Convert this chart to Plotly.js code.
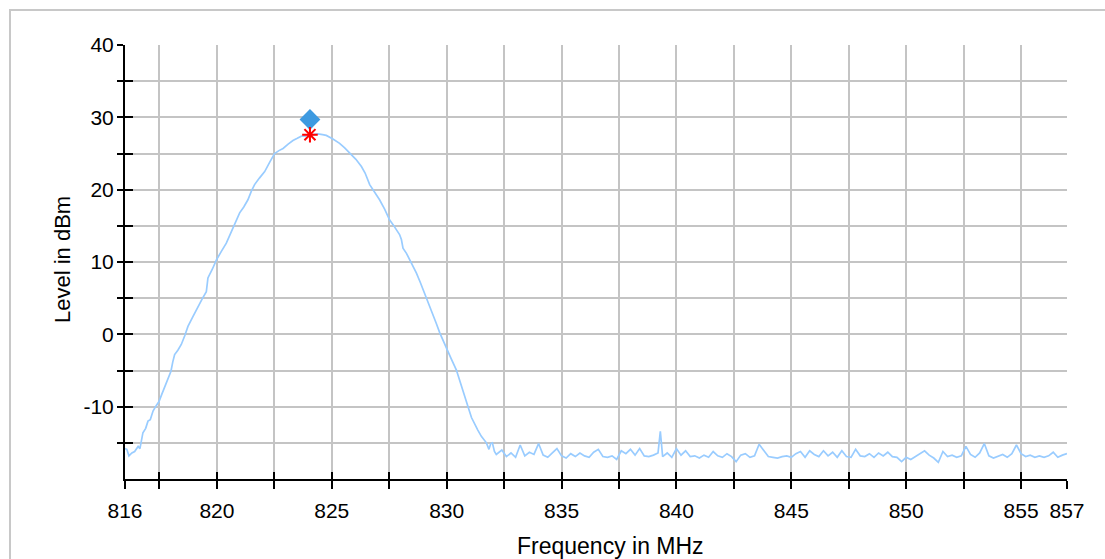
<!DOCTYPE html>
<html>
<head>
<meta charset="utf-8">
<script src="https://cdn.plot.ly/plotly-3.0.1.min.js"></script>
<style>html,body{margin:0;padding:0;background:#fff;}#chart{width:1105px;height:559px;}</style>
</head>
<body>
<div id="chart"></div>
<script>
// ---- data ----
var lobeFreq = [816.0, 816.08, 816.17, 816.3, 816.42, 816.52, 816.57, 816.65, 816.78, 816.9,
  817.0, 817.1, 817.22, 817.35, 817.48, 817.6, 817.73, 817.87, 818.0, 818.08,
  818.16, 818.3, 818.45, 818.6, 818.74, 818.95, 819.18, 819.36, 819.54, 819.61,
  819.8, 819.98, 820.2, 820.41, 820.63, 820.8, 820.99, 821.17, 821.35, 821.5,
  821.64, 821.85, 822.08, 822.3, 822.51, 822.7, 822.88, 823.1, 823.31, 823.5,
  823.68, 823.85, 824.04, 824.2, 824.4, 824.6, 824.76, 825.05, 825.34, 825.55,
  825.78, 826.05, 826.29, 826.45, 826.65, 826.85, 827.08, 827.3, 827.52, 827.66,
  827.8, 827.95, 828.03, 828.1, 828.25, 828.4, 828.53, 828.68, 828.85, 829.04,
  829.2, 829.4, 829.55, 829.7, 829.85, 829.99, 830.2, 830.42, 830.6, 830.75,
  830.93, 831.08, 831.22, 831.35, 831.51, 831.62, 831.73, 831.84, 831.92, 831.99,
  832.08, 832.16];
var lobeLevel = [-15.8, -15.9, -16.8, -16.4, -16.2, -15.7, -15.5, -15.8, -13.6, -13.0,
  -12.0, -11.8, -10.6, -9.9, -9.3, -8.3, -7.2, -6.3, -5.1, -3.8,
  -2.8, -2.2, -1.4, -0.2, 1.1, 2.4, 3.9, 4.9, 5.9, 7.8,
  9.0, 10.3, 11.5, 12.6, 14.2, 15.4, 16.8, 17.6, 18.6, 19.8,
  20.7, 21.6, 22.5, 23.8, 25.0, 25.4, 25.7, 26.3, 26.8, 27.1,
  27.4, 27.4, 27.6, 27.6, 27.7, 27.6, 27.5, 27.0, 26.4, 25.8,
  25.0, 24.2, 23.2, 22.3, 20.7, 19.8, 18.6, 17.3, 15.8, 15.2,
  14.5, 13.8, 13.1, 11.9, 11.2, 10.3, 9.4, 8.5, 7.2, 5.7,
  4.4, 2.9, 1.5, 0.2, -0.9, -2.1, -3.4, -4.9, -6.6, -8.2,
  -10.0, -11.5, -12.5, -13.2, -14.1, -14.6, -15.0, -15.9, -15.1, -15.0,
  -16.2, -16.6];
var floorFreq = [832.4, 832.6, 832.8, 833.0, 833.2, 833.4, 833.6, 833.8, 834.0, 834.2,
  834.4, 834.6, 834.8, 835.0, 835.2, 835.4, 835.6, 835.8, 836.0, 836.2,
  836.4, 836.6, 836.8, 837.0, 837.2, 837.4, 837.6, 837.8, 838.0, 838.2,
  838.4, 838.6, 838.8, 839.0, 839.2, 839.3, 839.4, 839.6, 839.8, 840.0,
  840.2, 840.4, 840.6, 840.8, 841.0, 841.2, 841.4, 841.6, 841.8, 842.0,
  842.2, 842.4, 842.6, 842.8, 843.0, 843.2, 843.4, 843.6, 843.8, 844.0,
  844.2, 844.4, 844.6, 844.8, 845.0, 845.2, 845.4, 845.6, 845.8, 846.0,
  846.2, 846.4, 846.6, 846.8, 847.0, 847.2, 847.4, 847.6, 847.8, 848.0,
  848.2, 848.4, 848.6, 848.8, 849.0, 849.2, 849.4, 849.6, 849.8, 850.0,
  850.2, 850.4, 850.6, 850.8, 851.0, 851.2, 851.4, 851.6, 851.8, 852.0,
  852.2, 852.4, 852.6, 852.8, 853.0, 853.2, 853.4, 853.6, 853.8, 854.0,
  854.2, 854.4, 854.6, 854.8, 855.0, 855.2, 855.4, 855.6, 855.8, 856.0,
  856.2, 856.4, 856.6, 856.8, 857.0];
var floorLevel = [-16.0, -16.9, -16.4, -17.0, -15.3, -16.8, -16.3, -16.6, -15.1, -16.7,
  -17.0, -16.4, -15.8, -16.8, -17.1, -16.5, -16.9, -16.4, -16.8, -17.0,
  -16.3, -15.9, -16.9, -17.0, -16.8, -17.3, -16.1, -16.5, -15.9, -16.7,
  -15.8, -16.8, -16.9, -16.7, -16.4, -13.4, -16.9, -16.4, -17.0, -15.8,
  -16.7, -16.1, -16.9, -16.8, -17.1, -16.7, -17.0, -16.2, -16.8, -17.0,
  -16.5, -16.9, -17.6, -16.7, -16.5, -17.0, -16.8, -15.2, -16.1, -16.9,
  -17.0, -17.1, -16.9, -16.8, -17.0, -16.5, -16.2, -17.0, -16.1, -16.6,
  -16.9, -16.1, -16.8, -16.3, -17.0, -16.1, -16.9, -17.0, -15.9, -16.8,
  -16.9, -16.5, -17.0, -16.4, -16.8, -16.3, -16.9, -17.0, -17.6, -17.0,
  -17.3, -16.9, -16.4, -16.1, -16.7, -17.1, -17.7, -16.2, -16.9, -16.7,
  -17.0, -16.8, -15.5, -16.6, -17.0, -16.4, -15.1, -16.8, -17.1, -16.9,
  -16.6, -17.0, -16.5, -15.3, -16.5, -16.9, -16.7, -17.0, -16.8, -17.0,
  -16.8, -16.3, -17.0, -16.7, -16.5];
var peakFreq = [824.05];
var peakLevel = [29.7];
var markerFreq = [824.05];
var markerLevel = [27.6];

var xTickVals = [816, 817.5, 820, 822.5, 825, 827.5, 830, 832.5, 835, 837.5, 840, 842.5, 845, 847.5, 850, 852.5, 855, 857];
var xTickText = ['816', '', '820', '', '825', '', '830', '', '835', '', '840', '', '845', '', '850', '', '855', '857'];
var yTickVals = [-15, -10, -5, 0, 5, 10, 15, 20, 25, 30, 35, 40];
var yTickText = ['', '-10', '', '0', '', '10', '', '20', '', '30', '', '40'];
var xTitle = 'Frequency in MHz';
var yTitle = 'Level in dBm';

// ---- plot ----
var tickFont = {family: 'Liberation Sans, Arial, sans-serif', size: 21, color: '#000'};
var titleFont = {family: 'Liberation Sans, Arial, sans-serif', size: 22, color: '#000'};
var xTitleFont = {family: 'Liberation Sans, Arial, sans-serif', size: 23, color: '#000'};
var W = 1105, H = 559, ml = 125, mr = 38, mt = 45, mb = 80;
var pw = W - ml - mr, ph = H - mt - mb;
function px(x) { return (x - ml) / pw; }
function py(y) { return (H - mb - y) / ph; }

var traces = [
  {x: lobeFreq.concat(floorFreq), y: lobeLevel.concat(floorLevel), type: 'scatter', mode: 'lines',
   line: {color: '#99ccff', width: 1.7}, hoverinfo: 'skip', showlegend: false},
  {x: peakFreq, y: peakLevel, type: 'scatter', mode: 'markers',
   marker: {symbol: 'diamond', size: 16, color: '#3e9ae0', line: {width: 0}}, showlegend: false},
  {x: markerFreq, y: markerLevel, type: 'scatter', mode: 'markers',
   marker: {symbol: 'asterisk-open', size: 13, color: '#ff0000', line: {color: '#ff0000', width: 2}}, showlegend: false},
  {x: [], y: [], xaxis: 'x2', yaxis: 'y2', type: 'scatter', mode: 'lines', showlegend: false, hoverinfo: 'skip'}
];

var axCommon = {showgrid: true, gridcolor: '#c4c4c4', gridwidth: 2, zeroline: false, showline: true,
  linecolor: '#000', linewidth: 2, tickcolor: '#000', tickwidth: 2, tickfont: tickFont, tickmode: 'array', fixedrange: true};

var layout = {
  width: W, height: H,
  margin: {l: ml, r: mr, t: mt, b: mb, pad: 0},
  paper_bgcolor: '#fff', plot_bgcolor: '#fff',
  font: tickFont,
  showlegend: false,
  xaxis: Object.assign({}, axCommon, {range: [816, 857], tickvals: xTickVals, ticktext: xTickText, ticks: 'outside', ticklen: 8, ticklabelstandoff: 4}),
  yaxis: Object.assign({}, axCommon, {range: [-20, 40], tickvals: yTickVals, ticktext: yTickText, ticks: 'outside', ticklen: 6, ticklabelstandoff: -1}),
  xaxis2: {overlaying: 'x', anchor: 'y2', side: 'bottom', range: [816, 857], tickmode: 'array', tickvals: xTickVals,
    ticks: 'inside', ticklen: 7, tickwidth: 2, tickcolor: '#000', showticklabels: false, showgrid: false, zeroline: false, showline: false, fixedrange: true},
  yaxis2: {overlaying: 'y', anchor: 'x2', side: 'left', range: [-20, 40], tickmode: 'array', tickvals: yTickVals,
    ticks: 'inside', ticklen: 8, tickwidth: 2, tickcolor: '#000', showticklabels: false, showgrid: false, zeroline: false, showline: false, fixedrange: true},
  shapes: [
    {type: 'rect', xref: 'paper', yref: 'paper', x0: px(10), x1: px(1115), y0: py(570), y1: py(10),
     line: {color: '#c8c8c8', width: 2}, fillcolor: 'rgba(0,0,0,0)', layer: 'below'}
  ],
  annotations: [
    {text: yTitle, xref: 'paper', yref: 'paper', x: px(62), y: py(260), textangle: -90, showarrow: false,
     xanchor: 'center', yanchor: 'middle', font: titleFont},
    {text: xTitle, xref: 'paper', yref: 'paper', x: px(610), y: py(546), showarrow: false,
     xanchor: 'center', yanchor: 'middle', font: xTitleFont}
  ]
};

Plotly.newPlot('chart', traces, layout, {displayModeBar: false, staticPlot: true});
</script>
</body>
</html>
